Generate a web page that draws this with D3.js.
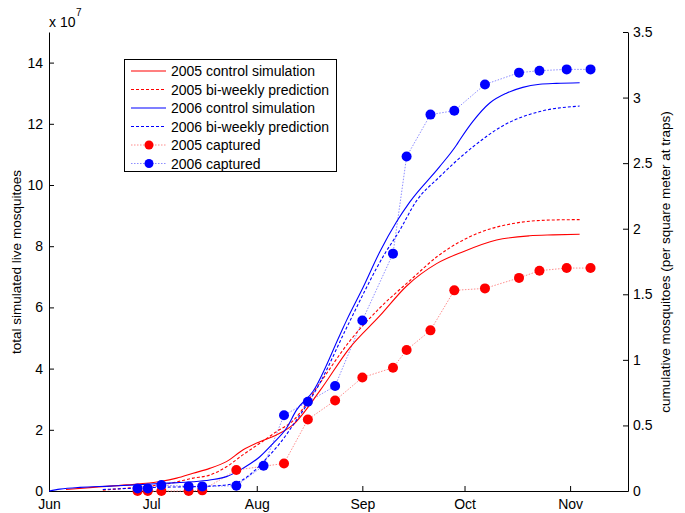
<!DOCTYPE html>
<html><head><meta charset="utf-8">
<script src="https://cdn.jsdelivr.net/npm/d3@7"></script>
<style>body{margin:0;background:#fff}svg{display:block}text{font-family:Arial,"Liberation Sans",sans-serif;}</style>
</head><body><svg id="c" width="685" height="513"></svg>
<script>
// ---- data (x = days after 1 June) ----
const monthTicks = ["Jun","Jul","Aug","Sep","Oct","Nov"];
const leftTicks = [0,2,4,6,8,10,12,14];
const rightTicks = [0,0.5,1,1.5,2,2.5,3,3.5];

// 2005 control simulation (x10^7)
const ctrl2005Days = [5,12.9,22.8,32.6,37.5,42.3,47.2,52.1,56.9,61.9,66.8,71.6,79.5,88.3,97.1,105,113.8,121.6,131.4,141.1,148,155.8];
const ctrl2005Vals = [0.05,0.12,0.2,0.31,0.42,0.58,0.74,0.96,1.34,1.61,1.83,2.16,3.27,4.68,5.72,6.7,7.43,7.82,8.2,8.34,8.37,8.39];
// 2005 bi-weekly prediction
const pred2005Days = [15.8,25.7,35.5,42.3,47.2,52.1,56.9,61.9,66.8,71.6,79.5,88.3,97.1,106,114.2,126.5,136.2,146,155.8];
const pred2005Vals = [0.03,0.12,0.25,0.42,0.52,0.79,1.18,1.56,1.94,2.29,3.52,4.9,5.98,6.88,7.68,8.45,8.74,8.85,8.87];
// 2006 control simulation
const ctrl2006Days = [0,3.2,9.1,17.9,25.7,33.5,42.3,47.2,52.1,56.9,61.9,65.8,69.7,72.7,77.6,85.4,87.3,92.2,97.1,102,105.9,114.7,119.6,120.6,124.4,129.4,134.3,139.1,144.1,149,155.8];
const ctrl2006Vals = [0,0.06,0.12,0.16,0.2,0.25,0.3,0.36,0.47,0.74,1.12,1.56,2.05,2.65,3.27,5.1,5.56,6.65,7.81,8.79,9.44,10.6,11.3,11.47,12.07,12.68,13.0,13.19,13.29,13.32,13.34];
// 2006 bi-weekly prediction
const pred2006Days = [15.8,32.6,47.2,52.1,56,60,63.9,67.8,71.7,79.5,87.4,98.9,102.5,107.9,114.7,124.5,134.3,144.1,155.8];
const pred2006Vals = [0.05,0.12,0.16,0.2,0.31,0.63,1.07,1.56,2.16,3.52,5.34,7.81,8.43,9.48,10.27,11.25,12.0,12.4,12.58];

// captured (per square meter at traps)
const cap2005Days = [26,29,33,41,45,55,69,76,84,92,101,105,112,119,128,138,144,152,159];
const cap2005Vals = [0,0,0,0,0.005,0.16,0.21,0.545,0.69,0.865,0.94,1.075,1.225,1.53,1.545,1.625,1.68,1.70,1.70];
const cap2006Days = [26,29,33,41,45,55,63,69,76,84,92,101,105,112,119,128,138,144,152,159];
const cap2006Vals = [0.02,0.02,0.045,0.035,0.035,0.04,0.193,0.577,0.68,0.80,1.30,1.81,2.55,2.87,2.90,3.10,3.19,3.205,3.215,3.215];

const legendLabels = ["2005 control simulation","2005 bi-weekly prediction","2006 control simulation","2006 bi-weekly prediction","2005 captured","2006 captured"];

// ---- drawing ----
const svg = d3.select("#c");
const start = new Date(2005,5,1);
const day = d => start.getTime() + d*86400000;
const x = d3.scaleTime().domain([start, new Date(day(170))]).range([49,628]);
const yL = d3.scaleLinear().domain([0,15]).range([491,32]);
const yR = d3.scaleLinear().domain([0,3.5]).range([491,32]);
const FS = 14;

// axes
const xAxis = d3.axisBottom(x).tickValues(d3.timeMonth.range(start, new Date(2005,10,2))).tickFormat((d,i)=>monthTicks[i]).tickSizeInner(-5).tickSizeOuter(0).tickPadding(8);
const gx = svg.append("g").attr("transform","translate(0,491)").call(xAxis);
const lAxis = d3.axisLeft(yL).tickValues(leftTicks).tickSizeInner(-5).tickSizeOuter(0).tickPadding(6);
const gl = svg.append("g").attr("transform","translate(49,0)").call(lAxis);
const rAxis = d3.axisRight(yR).tickValues(rightTicks).tickFormat(d=>String(d)).tickSizeInner(-5).tickSizeOuter(0).tickPadding(5);
const gr = svg.append("g").attr("transform","translate(628,0)").call(rAxis);
[gx,gl,gr].forEach(g=>{
  g.selectAll("text").attr("font-size",FS).attr("fill","#000").attr("font-family","Arial, 'Liberation Sans', sans-serif");
  g.selectAll("line,path").attr("stroke","#000");
});
svg.append("text").attr("x",49).attr("y",27).attr("font-size",FS).text("x 10");
svg.append("text").attr("x",76).attr("y",16).attr("font-size",10).text("7");

svg.append("text").attr("transform","translate(21,262) rotate(-90)").attr("text-anchor","middle").attr("font-size",13.5).text("total simulated live mosquitoes");
svg.append("text").attr("transform","translate(670,262) rotate(-90)").attr("text-anchor","middle").attr("font-size",13.5).text("cumulative mosquitoes (per square meter at traps)");

const lineL = d3.line().x(d=>x(new Date(day(d[0])))).y(d=>yL(d[1])).curve(d3.curveMonotoneX);
const lineR = d3.line().x(d=>x(new Date(day(d[0])))).y(d=>yR(d[1]));
const zip = (a,b)=>a.map((v,i)=>[v,b[i]]);

const capLineStyle = (p,c)=>p.attr("fill","none").attr("stroke",c).attr("stroke-width",0.9).attr("stroke-dasharray","1.5,1.5");

// captured lines
capLineStyle(svg.append("path").attr("d",lineR(zip(cap2005Days,cap2005Vals))),"#ff8080");
capLineStyle(svg.append("path").attr("d",lineR(zip(cap2006Days,cap2006Vals))),"#8080ff");

// simulation lines
const sims = [
  [ctrl2005Days,ctrl2005Vals,"#ff0000",null],
  [pred2005Days,pred2005Vals,"#ff0000","3,2"],
  [ctrl2006Days,ctrl2006Vals,"#0000ff",null],
  [pred2006Days,pred2006Vals,"#0000ff","3,2"]
];
sims.forEach(s=>{
  const p = svg.append("path").attr("d",lineL(zip(s[0],s[1]))).attr("fill","none").attr("stroke",s[2]).attr("stroke-width",1.1);
  if(s[3]) p.attr("stroke-dasharray",s[3]);
});

// markers
svg.append("g").selectAll("circle").data(zip(cap2005Days,cap2005Vals)).join("circle")
  .attr("cx",d=>x(new Date(day(d[0])))).attr("cy",d=>yR(d[1])).attr("r",5).attr("fill","#ff0000");
svg.append("g").selectAll("circle").data(zip(cap2006Days,cap2006Vals)).join("circle")
  .attr("cx",d=>x(new Date(day(d[0])))).attr("cy",d=>yR(d[1])).attr("r",5).attr("fill","#0000ff");

// legend
const lg = svg.append("g");
lg.append("rect").attr("x",124.5).attr("y",59.5).attr("width",212).attr("height",112).attr("fill","#fff").attr("stroke","#000").attr("stroke-width",1);
const lstyles = [["#ff0000",null,false],["#ff0000","3,2",false],["#0000ff",null,false],["#0000ff","3,2",false],["#ff8080","1.5,1.5",true],["#8080ff","1.5,1.5",true]];
legendLabels.forEach((t,i)=>{
  const yy = 71 + i*18.5;
  const st = lstyles[i];
  const ln = lg.append("line").attr("x1",131).attr("x2",166).attr("y1",yy).attr("y2",yy).attr("stroke",st[0]).attr("stroke-width",st[2]?0.9:1.1);
  if(st[1]) ln.attr("stroke-dasharray",st[1]);
  if(st[2]) lg.append("circle").attr("cx",149).attr("cy",yy).attr("r",4.5).attr("fill",i===4?"#ff0000":"#0000ff");
  lg.append("text").attr("x",171).attr("y",yy+5).attr("font-size",FS).text(t);
});
</script></body></html>
